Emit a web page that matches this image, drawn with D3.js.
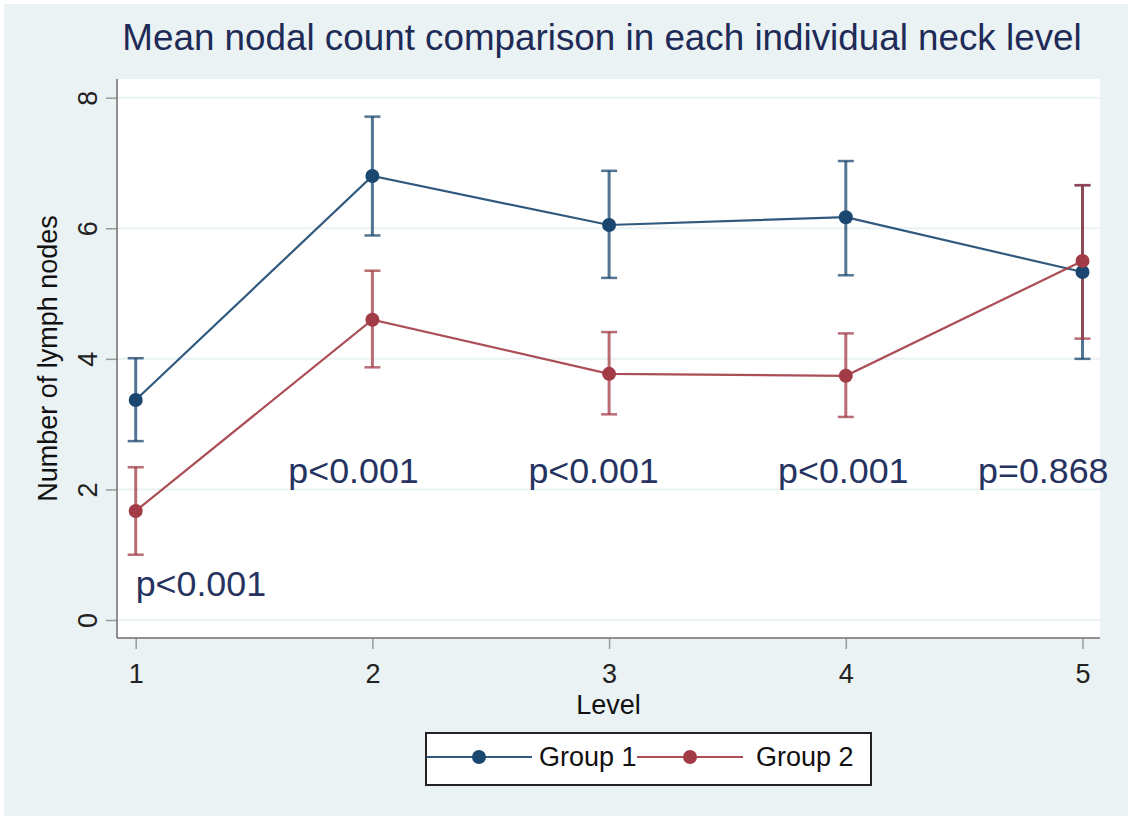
<!DOCTYPE html>
<html>
<head>
<meta charset="utf-8">
<script src="https://cdn.jsdelivr.net/npm/d3@7"></script>
<style>
  body { margin: 0; background: #ffffff; }
  text { font-family: "Liberation Sans", Arial, sans-serif; }
</style>
</head>
<body>
<div id="graph"></div>
<script>
// values
var levels     = [1, 2, 3, 4, 5];
var group1Mean = [3.37, 6.80, 6.05, 6.17, 5.33];
var group1Lo   = [2.74, 5.89, 5.24, 5.28, 4.00];
var group1Hi   = [4.01, 7.71, 6.88, 7.03, 6.66];
var group2Mean = [1.67, 4.60, 3.77, 3.74, 5.50];
var group2Lo   = [1.00, 3.87, 3.15, 3.11, 4.31];
var group2Hi   = [2.34, 5.35, 4.41, 4.39, 6.66];
var yTicks     = [0, 2, 4, 6, 8];
var pLabels    = ["p<0.001", "p<0.001", "p<0.001", "p<0.001", "p=0.868"];
var pLabelX    = [1.00, 1.645, 2.659, 3.714, 4.559];
var pLabelY    = [0.36, 2.10, 2.10, 2.10, 2.10];
var seriesNames = ["Group 1", "Group 2"];

var W = 1128, H = 820;
var region = {left: 117, right: 1100, top: 79, bottom: 638};
var navy = "#1a476f", maroon = "#a23b45";
var fontStack = '"Liberation Sans", Arial, sans-serif';

var x = d3.scaleLinear().domain([1, 5]).range([135.7, 1082.5]);
var y = d3.scaleLinear().domain([0, 8]).range([620, 97.7]);

var svg = d3.select("#graph").append("svg")
    .attr("width", W)
    .attr("height", H);

// graph region + plot region
svg.append("rect").attr("x", 4).attr("y", 4).attr("width", W - 4).attr("height", H - 8)
    .attr("fill", "#eaf2f3");
svg.append("rect")
    .attr("x", region.left).attr("y", region.top)
    .attr("width", region.right - region.left).attr("height", region.bottom - region.top)
    .attr("fill", "#ffffff");

// gridlines
svg.append("g").selectAll("line").data(yTicks).join("line")
    .attr("x1", region.left).attr("x2", region.right)
    .attr("y1", function(d){ return y(d); }).attr("y2", function(d){ return y(d); })
    .attr("stroke", "#eaf2f3").attr("stroke-width", 2);

// title
svg.append("text")
    .attr("x", 602).attr("y", 50)
    .attr("text-anchor", "middle")
    .attr("font-size", 36.8)
    .attr("fill", "#1f2b57")
    .text("Mean nodal count comparison in each individual neck level");

// y axis
var yAxis = svg.append("g")
    .attr("transform", "translate(" + region.left + ",0)")
    .call(d3.axisLeft(y).tickValues(yTicks).tickSize(11).tickSizeOuter(0).tickFormat(d3.format("d")));
yAxis.select(".domain").remove();
yAxis.selectAll(".tick line").attr("stroke", "#9a9a9a").attr("stroke-width", 1.5);
yAxis.selectAll(".tick text")
    .attr("x", 0).attr("y", 0).attr("dy", 0)
    .attr("transform", "translate(-20,0) rotate(-90)")
    .attr("text-anchor", "middle")
    .attr("font-size", 27)
    .attr("font-family", fontStack)
    .attr("fill", "#222");

// x axis
var xAxis = svg.append("g")
    .attr("transform", "translate(0," + region.bottom + ")")
    .call(d3.axisBottom(x).tickValues(levels).tickSize(11).tickSizeOuter(0).tickFormat(d3.format("d")));
xAxis.select(".domain").remove();
xAxis.selectAll(".tick line").attr("stroke", "#9a9a9a").attr("stroke-width", 1.5);
xAxis.selectAll(".tick text")
    .attr("y", 45).attr("dy", 0)
    .attr("font-size", 27)
    .attr("font-family", fontStack)
    .attr("fill", "#222");

// axis lines
svg.append("line")
    .attr("x1", region.left).attr("x2", region.left)
    .attr("y1", region.top).attr("y2", region.bottom)
    .attr("stroke", "#6e6e6e").attr("stroke-width", 1.5);
svg.append("line")
    .attr("x1", region.left).attr("x2", region.right)
    .attr("y1", region.bottom).attr("y2", region.bottom)
    .attr("stroke", "#6e6e6e").attr("stroke-width", 1.5);

// axis titles
svg.append("text")
    .attr("x", (region.left + region.right) / 2).attr("y", 714)
    .attr("text-anchor", "middle")
    .attr("font-size", 27).attr("fill", "#111")
    .text("Level");
svg.append("text")
    .attr("transform", "translate(57," + (region.top + region.bottom) / 2 + ") rotate(-90)")
    .attr("text-anchor", "middle")
    .attr("font-size", 27).attr("fill", "#111")
    .text("Number of lymph nodes");

function rows(mean, lo, hi) {
    return levels.map(function(l, i){ return {level: l, mean: mean[i], lo: lo[i], hi: hi[i]}; });
}
var series = [
    {name: seriesNames[0], color: navy, data: rows(group1Mean, group1Lo, group1Hi)},
    {name: seriesNames[1], color: maroon, data: rows(group2Mean, group2Lo, group2Hi)}
];

// range caps first
series.forEach(function(s) {
    var g = svg.append("g").attr("stroke", s.color).attr("stroke-opacity", 0.75);
    g.selectAll(".bar").data(s.data).join("line")
        .attr("x1", function(d){ return x(d.level); }).attr("x2", function(d){ return x(d.level); })
        .attr("y1", function(d){ return y(d.lo); }).attr("y2", function(d){ return y(d.hi); })
        .attr("stroke-width", 3);
    ["lo", "hi"].forEach(function(k) {
        g.selectAll(".cap-" + k).data(s.data).join("line")
            .attr("x1", function(d){ return x(d.level) - 8; }).attr("x2", function(d){ return x(d.level) + 8; })
            .attr("y1", function(d){ return y(d[k]); }).attr("y2", function(d){ return y(d[k]); })
            .attr("stroke-width", 2.5);
    });
});

// connected means
var line = d3.line().x(function(d){ return x(d.level); }).y(function(d){ return y(d.mean); });
series.forEach(function(s) {
    svg.append("path").datum(s.data)
        .attr("d", line)
        .attr("fill", "none")
        .attr("stroke", s.color).attr("stroke-width", 2.2).attr("stroke-opacity", 0.9);
    svg.append("g").selectAll("circle").data(s.data).join("circle")
        .attr("cx", function(d){ return x(d.level); })
        .attr("cy", function(d){ return y(d.mean); })
        .attr("r", 7)
        .attr("fill", s.color);
});

// p-value annotations
svg.append("g").selectAll("text").data(pLabels).join("text")
    .attr("x", function(d, i){ return x(pLabelX[i]); })
    .attr("y", function(d, i){ return y(pLabelY[i]); })
    .attr("font-size", 35.8)
    .attr("fill", "#26325f")
    .text(function(d){ return d; });

// legend
var legend = svg.append("g");
legend.append("rect")
    .attr("x", 426).attr("y", 733).attr("width", 445).attr("height", 52)
    .attr("fill", "#ffffff").attr("stroke", "#222").attr("stroke-width", 2);
var keyX = [426, 637], keyY = 757;
series.forEach(function(s, i) {
    legend.append("line")
        .attr("x1", keyX[i]).attr("x2", keyX[i] + 106)
        .attr("y1", keyY).attr("y2", keyY)
        .attr("stroke", s.color).attr("stroke-width", 2.2).attr("stroke-opacity", 0.9);
    legend.append("circle")
        .attr("cx", keyX[i] + 53).attr("cy", keyY).attr("r", 7)
        .attr("fill", s.color);
    legend.append("text")
        .attr("x", keyX[i] + (i === 0 ? 113 : 119)).attr("y", 766)
        .attr("font-size", 27).attr("fill", "#111")
        .text(s.name);
});
</script>
</body>
</html>
